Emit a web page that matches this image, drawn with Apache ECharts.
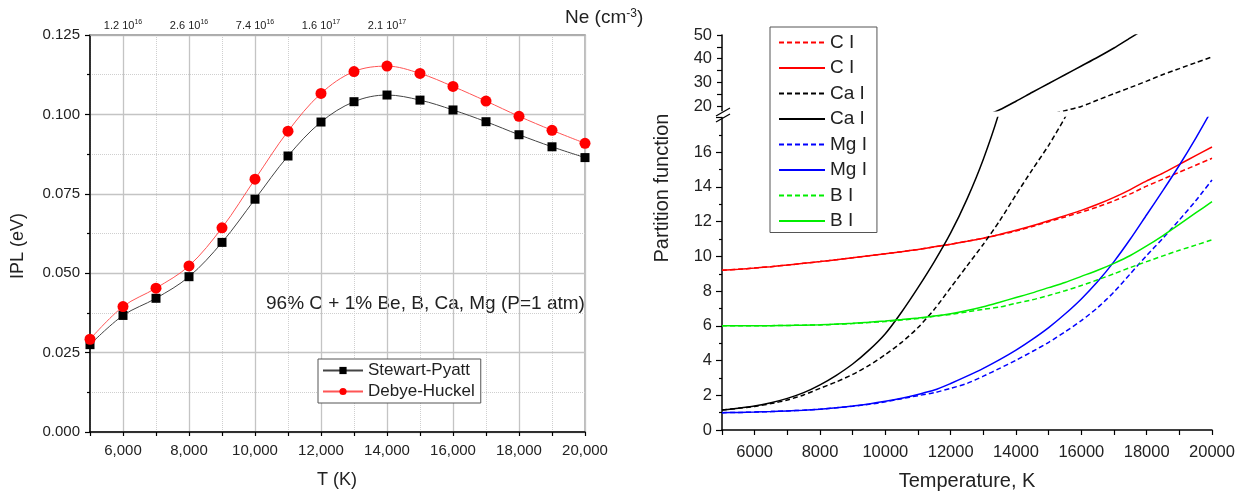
<!DOCTYPE html>
<html><head><meta charset="utf-8">
<script src="https://cdn.jsdelivr.net/npm/echarts@6/dist/echarts.min.js"></script>
<style>html,body{margin:0;padding:0;background:#fff}#c{width:1240px;height:494px}</style>
</head><body><div id="c"></div>
<script>
// ---------- Left panel: IPL vs T ----------
const T_ipl = [5000,6000,7000,8000,9000,10000,11000,12000,13000,14000,15000,16000,17000,18000,19000,20000];
const stewartPyatt = [0.0275,0.0367,0.0421,0.0489,0.0597,0.0733,0.0869,0.0976,0.1040,0.1061,0.1045,0.1014,0.0977,0.0936,0.0898,0.0864];
const debyeHuckel = [0.0292,0.0395,0.0453,0.0523,0.0643,0.0796,0.0947,0.1066,0.1135,0.1152,0.1129,0.1088,0.1042,0.0994,0.0950,0.0909];
const neTicks = [6000,8000,10000,12000,14000];
const neMantissa = ['1.2','2.6','7.4','1.6','2.1'];
const neExponent = ['16','16','16','17','17'];

// ---------- Right panel: partition functions ----------
const T_pf = [5000,5500,6000,6500,7000,7500,8000,8500,9000,9500,10000,10500,11000,11500,12000,12500,13000,13500,14000,14500,15000,15500,16000,16500,17000,17500,18000,18500,19000,19500,20000];
const C_I_dash  = [9.2,9.26,9.33,9.41,9.5,9.6,9.7,9.81,9.92,10.03,10.15,10.27,10.4,10.55,10.7,10.87,11.05,11.25,11.46,11.72,12.0,12.27,12.55,12.85,13.2,13.6,14.05,14.45,14.85,15.25,15.65];
const C_I_solid = [9.2,9.26,9.33,9.41,9.5,9.6,9.7,9.81,9.92,10.03,10.15,10.27,10.4,10.55,10.7,10.87,11.05,11.26,11.5,11.76,12.05,12.35,12.65,13.0,13.4,13.85,14.35,14.8,15.3,15.8,16.3];
const Ca_I_dash  = [1.15,1.25,1.36,1.52,1.73,2.02,2.4,2.77,3.2,3.72,4.34,5.05,5.9,6.95,8.2,9.45,10.7,12.05,13.55,15.0,16.4,18.0,19.8,22.5,25.2,27.8,30.5,33.3,35.8,38.3,40.7];
const Ca_I_solid = [1.15,1.25,1.38,1.57,1.82,2.15,2.6,3.15,3.8,4.6,5.55,6.8,8.2,9.7,11.35,13.3,15.6,18.4,22.0,25.8,29.5,33.2,36.9,40.6,44.5,48.8,53.0,null,null,null,null];
const Mg_I_dash  = [1.0,1.01,1.03,1.06,1.1,1.14,1.2,1.28,1.37,1.48,1.62,1.8,1.98,2.15,2.4,2.68,3.1,3.55,4.02,4.52,5.05,5.65,6.3,7.05,7.95,9.0,10.05,11.05,12.1,13.2,14.4];
const Mg_I_solid = [1.0,1.01,1.03,1.06,1.1,1.14,1.2,1.28,1.38,1.5,1.65,1.83,2.05,2.3,2.68,3.1,3.55,4.05,4.6,5.22,5.9,6.68,7.55,8.55,9.7,11.0,12.4,13.8,15.25,16.8,18.45];
const B_I_dash  = [6.0,6.0,6.0,6.01,6.02,6.04,6.05,6.09,6.13,6.19,6.25,6.33,6.42,6.55,6.66,6.8,6.95,7.08,7.3,7.5,7.75,8.02,8.32,8.65,9.0,9.36,9.7,10.03,10.35,10.65,10.95];
const B_I_solid = [6.0,6.0,6.0,6.01,6.02,6.04,6.06,6.1,6.15,6.21,6.28,6.36,6.45,6.56,6.7,6.88,7.1,7.36,7.63,7.9,8.2,8.5,8.85,9.2,9.6,10.05,10.6,11.2,11.84,12.5,13.15];
const pfNames  = ['C I','C I\u200B','Ca I','Ca I\u200B','Mg I','Mg I\u200B','B I','B I\u200B'];
const pfValues = [C_I_dash, C_I_solid, Ca_I_dash, Ca_I_solid, Mg_I_dash, Mg_I_solid, B_I_dash, B_I_solid];
const pfColors = ['#ff0000','#ff0000','#000000','#000000','#0000ff','#0000ff','#00ee00','#00ee00'];
const pfDashed = [true,false,true,false,true,false,true,false];
const lowerMax = 18, upperMin = 18, upperMax = 50;
const upperLabels = [20,30,40,50];
const upperTicks = [20,25,30,35,40,45,50];

const FONT = '"Liberation Sans", Arial, sans-serif';
const chart = echarts.init(document.getElementById('c'));

const pairs = (xs, ys) => xs.map((x, i) => [x, ys[i]]);

const series = [
  { type:'line', name:'Stewart-Pyatt', xAxisIndex:0, yAxisIndex:0, data:pairs(T_ipl, stewartPyatt),
    smooth:0.35, symbol:'rect', symbolSize:9, itemStyle:{color:'#000'}, lineStyle:{color:'#444', width:1}, z:3 },
  { type:'line', name:'Debye-Huckel', xAxisIndex:0, yAxisIndex:0, data:pairs(T_ipl, debyeHuckel),
    smooth:0.35, symbol:'circle', symbolSize:11, itemStyle:{color:'#ff0000'}, lineStyle:{color:'#ff5555', width:1}, z:3 }
];
pfNames.forEach((nm, k) => {
  const base = { type:'line', name:nm, data:pairs(T_pf, pfValues[k]), symbol:'none', smooth:0.25,
    connectNulls:false, clip:true, itemStyle:{color:pfColors[k]},
    lineStyle:{color:pfColors[k], width:1.5, type: pfDashed[k] ? [5,3] : 'solid'} };
  series.push(Object.assign({}, base, { xAxisIndex:2, yAxisIndex:1 }));
  const mx = Math.max(...pfValues[k].filter(v => v != null));
  if (mx > upperLabels[0]) series.push(Object.assign({}, base, { xAxisIndex:3, yAxisIndex:2 }));
});

const axisBlack = { show:true, onZero:false, lineStyle:{color:'#000', width:1.5} };
const tickBlack = { show:true, length:5, lineStyle:{color:'#000', width:1.2} };

const option = {
  animation:false,
  textStyle:{ fontFamily:FONT },
  grid:[
    { left:90, top:35, width:495, height:397, show:true, borderColor:'#a8a8a8', borderWidth:1.5, backgroundColor:'transparent' },
    { left:722, top:117.5, width:490, height:312.5 },
    { left:722, top:35, width:490, height:75.7 }
  ],
  xAxis:[
    { gridIndex:0, type:'value', min:5000, max:20000, interval:1000, position:'bottom',
      axisLine:axisBlack, axisTick:Object.assign({}, tickBlack, {length:4}),
      axisLabel:{ fontSize:15, color:'#222', margin:11, formatter:v => (v % 2000 === 0 && v > 5000) ? v.toLocaleString('en-US') : '' },
      splitLine:{ show:true, lineStyle:{ type:'dotted', color:'#cfcfcf', width:1 } } },
    { gridIndex:0, type:'value', min:5000, max:20000, interval:1000, position:'top',
      axisLine:{ show:true, onZero:false, lineStyle:{color:'#a8a8a8', width:1.5} }, axisTick:{show:false},
      axisLabel:{ margin:2, color:'#222', formatter:v => { const i = neTicks.indexOf(v); return i < 0 ? '' : '{m|' + neMantissa[i] + ' 10}{e|' + neExponent[i] + '}'; },
        rich:{ m:{fontSize:11, color:'#222', fontFamily:FONT}, e:{fontSize:7, color:'#222', padding:[0,0,7,0], fontFamily:FONT} } },
      splitLine:{ show:true, lineStyle:{ color:['rgba(0,0,0,0)','#c4c4c4'], width:1.3 } } },
    { gridIndex:1, type:'value', min:5000, max:20000, interval:1000,
      axisLine:axisBlack, axisTick:tickBlack,
      axisLabel:{ fontSize:16.5, color:'#222', margin:14, formatter:v => (v % 2000 === 0 && v > 5000) ? String(v) : '' },
      splitLine:{show:false} },
    { gridIndex:2, type:'value', min:5000, max:20000, show:false }
  ],
  yAxis:[
    { gridIndex:0, type:'value', min:0, max:0.125, interval:0.025,
      axisLine:axisBlack, axisTick:tickBlack,
      minorTick:{ show:true, splitNumber:2, length:3, lineStyle:{color:'#000', width:1.2} },
      axisLabel:{ fontSize:15, color:'#222', margin:10, formatter:v => v.toFixed(3) },
      splitLine:{ show:true, lineStyle:{ color:'#c4c4c4', width:1.3 } },
      minorSplitLine:{ show:true, lineStyle:{ type:'dotted', color:'#cfcfcf', width:1 } } },
    { gridIndex:1, type:'value', min:0, max:lowerMax, interval:2,
      axisLine:axisBlack, axisTick:Object.assign({}, tickBlack, {length:6}),
      minorTick:{ show:true, splitNumber:2, length:3, lineStyle:{color:'#000', width:1.2} },
      axisLabel:{ fontSize:16.5, color:'#222', margin:10, formatter:v => v <= 16 ? String(v) : '' },
      splitLine:{show:false} },
    { gridIndex:2, type:'value', min:upperMin, max:upperMax,
      axisLine:axisBlack, axisTick:Object.assign({}, tickBlack, {length:5, customValues:upperTicks}),
      axisLabel:{ fontSize:16.5, color:'#222', margin:10, customValues:upperLabels },
      splitLine:{show:false} }
  ],
  legend:[
    { data:['Stewart-Pyatt','Debye-Huckel'], orient:'vertical', left:318, top:359,
      itemWidth:40, itemHeight:9, itemGap:4, padding:[3,6,3,4],
      borderColor:'#555', borderWidth:1, backgroundColor:'#fff',
      textStyle:{ fontSize:17, color:'#222', fontFamily:FONT } },
    { data:pfNames, orient:'vertical', left:770, top:27,
      itemWidth:46, itemHeight:14, itemGap:6.5, padding:[6,10,2,8],
      itemStyle:{ opacity:0 },
      borderColor:'#555', borderWidth:1, backgroundColor:'#fff',
      textStyle:{ fontSize:19, color:'#222', fontFamily:FONT } }
  ],
  graphic:[
    { type:'text', x:18, y:246, rotation:Math.PI/2, style:{ text:'IPL (eV)', fill:'#222', fontSize:18, fontFamily:FONT, align:'center', verticalAlign:'middle' } },
    { type:'text', x:337, y:480, style:{ text:'T (K)', fill:'#222', fontSize:18, fontFamily:FONT, align:'center', verticalAlign:'middle' } },
    { type:'text', x:266, y:304, style:{ text:'96% C + 1% Be, B, Ca, Mg (P=1 atm)', fill:'#222', fontSize:19, fontFamily:FONT, align:'left', verticalAlign:'middle' } },
    { type:'text', x:565, y:18, style:{ text:'{n|Ne (cm}{s|-3}{n|)}', fill:'#222', align:'left', verticalAlign:'middle',
        rich:{ n:{fontSize:19, fontFamily:FONT, fill:'#222'}, s:{fontSize:12, fontFamily:FONT, fill:'#222', padding:[0,0,9,0]} } } },
    { type:'text', x:662, y:188, rotation:Math.PI/2, style:{ text:'Partition function', fill:'#222', fontSize:20, fontFamily:FONT, align:'center', verticalAlign:'middle' } },
    { type:'text', x:967, y:481, style:{ text:'Temperature, K', fill:'#222', fontSize:20, fontFamily:FONT, align:'center', verticalAlign:'middle' } },
    { type:'line', shape:{ x1:716, y1:116, x2:730, y2:108 }, style:{ stroke:'#000', lineWidth:1.3 } },
    { type:'line', shape:{ x1:716, y1:122, x2:730, y2:114 }, style:{ stroke:'#000', lineWidth:1.3 } }
  ],
  series:series
};
chart.setOption(option);
</script>
</body></html>
